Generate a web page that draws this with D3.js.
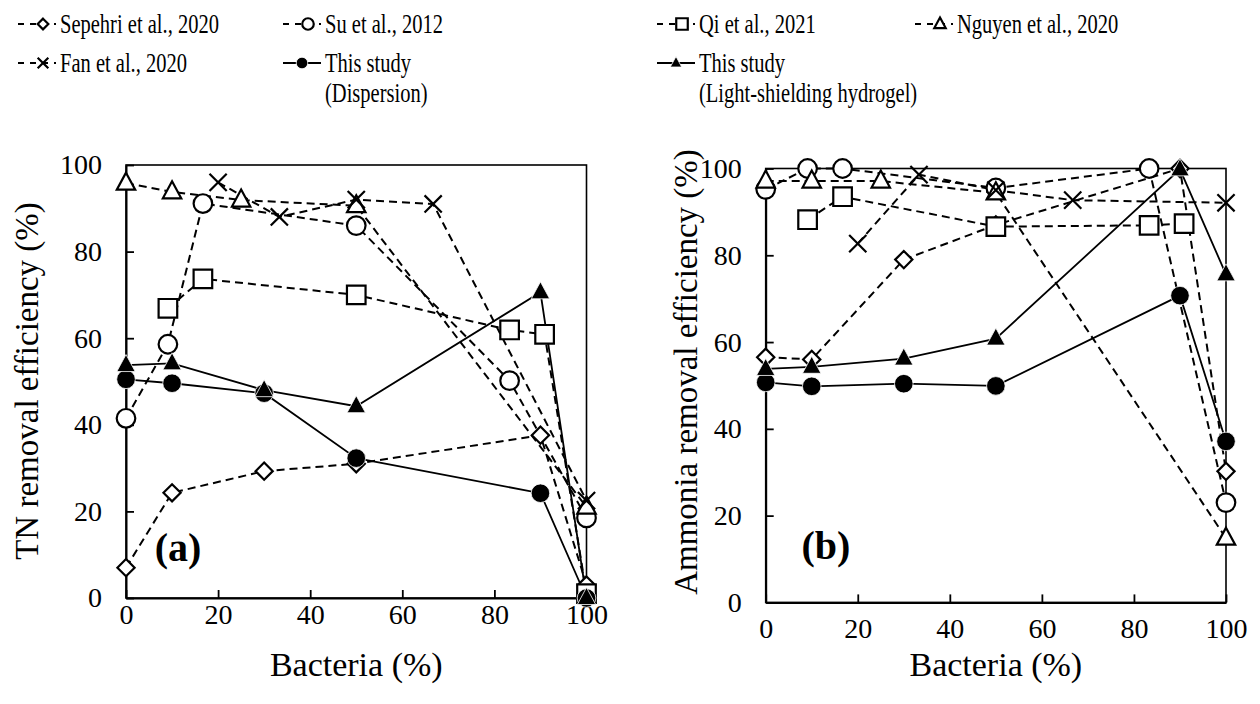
<!DOCTYPE html>
<html>
<head>
<meta charset="utf-8">
<script src="https://cdnjs.cloudflare.com/ajax/libs/d3/7.8.5/d3.min.js"></script>
<style>
  html, body { margin: 0; padding: 0; background: #fff; }
  svg { display: block; }
  text { font-family: "Liberation Serif", "Times New Roman", serif; fill: #000; }
</style>
</head>
<body>
<svg id="chart" width="1260" height="704"></svg>
<script>
// Bacteria share (%) used by each study
const sepehriX = [0, 10, 30, 50, 90, 100];
const suX      = [0, 9.1, 16.7, 50, 83.3, 100];
const qiX_TN   = [9.1, 16.7, 50, 83.3, 90.9, 100];
const qiX_NH   = [9.1, 16.7, 50, 83.3, 90.9];
const nguyenX  = [0, 10, 25, 50, 100];
const fanX     = [20, 33.3, 50, 66.7, 100];
const studyX   = [0, 10, 30, 50, 90, 100];

// (a) TN removal efficiency (%)
const sepehriTN = [7, 24.3, 29.3, 31, 37.6, 3];
const suTN      = [41.5, 58.6, 91.1, 86, 50.2, 18.5];
const qiTN      = [66.9, 73.7, 70, 61.9, 60.9, 1];
const nguyenTN  = [95.8, 93.8, 91.9, 90.6, 21];
const fanTN     = [96, 88, 92, 91, 22.5];
const dispTN    = [50.5, 49.6, 47.3, 32.3, 24.2, 0];
const gelTN     = [53.8, 54.2, 48, 44.3, 70.6, 0];

// (b) Ammonia removal efficiency (%)
const sepehriNH = [56.5, 56, 79, 87, 100, 30.2];
const suNH      = [95.2, 100, 100, 95.5, 100, 23];
const qiNH      = [88.2, 93.5, 86.6, 86.9, 87.3];
const nguyenNH  = [97.1, 97.1, 97.1, 94.4, 14.8];
const fanNH     = [82.7, 98.6, 95, 92.7, 92.1];
const dispNH    = [50.7, 49.8, 50.4, 49.9, 70.7, 37.1];
const gelNH     = [53.8, 54.3, 56.2, 60.8, 99.8, 75.6];

const tickValues = [0, 20, 40, 60, 80, 100];
const xTitle = "Bacteria (%)";
const yTitles = ["TN removal efficiency (%)", "Ammonia removal efficiency (%)"];
const panelTags = ["(a)", "(b)"];

// Series definitions: label, marker shape, dashed or solid line
const seriesInfo = [
  { key: "sepehri", label: ["Sepehri et al., 2020"], shape: "diamond", dashed: true },
  { key: "su",      label: ["Su et al., 2012"],      shape: "circle",  dashed: true },
  { key: "qi",      label: ["Qi et al., 2021"],      shape: "square",  dashed: true },
  { key: "nguyen",  label: ["Nguyen et al., 2020"],  shape: "triangle", dashed: true },
  { key: "fan",     label: ["Fan et al., 2020"],     shape: "cross",   dashed: true },
  { key: "disp",    label: ["This study", "(Dispersion)"], shape: "dot", dashed: false },
  { key: "gel",     label: ["This study", "(Light-shielding hydrogel)"], shape: "tri", dashed: false }
];

const panelData = [
  { sepehri: [sepehriX, sepehriTN], su: [suX, suTN], qi: [qiX_TN, qiTN], nguyen: [nguyenX, nguyenTN],
    fan: [fanX, fanTN], disp: [studyX, dispTN], gel: [studyX, gelTN] },
  { sepehri: [sepehriX, sepehriNH], su: [suX, suNH], qi: [qiX_NH, qiNH], nguyen: [nguyenX, nguyenNH],
    fan: [fanX, fanNH], disp: [studyX, dispNH], gel: [studyX, gelNH] }
];

const panels = [
  { left: 126,   right: 586.5, top: 165,   bottom: 598,   xPad: 6,  yPad: 24, tag: [178, 561], yTitle: [38, 381] },
  { left: 765.7, right: 1226,  top: 168.5, bottom: 602.4, xPad: 16, yPad: 24, tag: [826, 559], yTitle: [697, 372] }
];

const svg = d3.select("#chart");

// marker path generator, k scales the size
function markerPath(shape, k) {
  const p = d3.path();
  if (shape === "diamond") {
    const h = 8.6 * k;
    p.moveTo(0, -h); p.lineTo(h, 0); p.lineTo(0, h); p.lineTo(-h, 0); p.closePath();
  } else if (shape === "circle" || shape === "dot") {
    const r = 9.3 * k;
    p.moveTo(r, 0); p.arc(0, 0, r, 0, 2 * Math.PI);
  } else if (shape === "square") {
    const h = 9.3 * k;
    p.rect(-h, -h, 2 * h, 2 * h);
  } else if (shape === "triangle" || shape === "tri") {
    const w = 9.2 * k, hu = 10.5 * k, hd = 6.5 * k;
    p.moveTo(0, -hu); p.lineTo(w, hd); p.lineTo(-w, hd); p.closePath();
  } else if (shape === "cross") {
    const h = 8.6 * k;
    p.moveTo(-h, -h); p.lineTo(h, h); p.moveTo(h, -h); p.lineTo(-h, h);
  }
  return p.toString();
}

function drawMarker(g, shape, x, y, k) {
  const filled = (shape === "dot" || shape === "tri");
  g.append("path")
    .attr("transform", `translate(${x},${y})`)
    .attr("d", markerPath(shape, k))
    .attr("fill", filled ? "#000" : (shape === "cross" ? "none" : "#fff"))
    .attr("stroke", filled ? "#fff" : "#000")
    .attr("stroke-width", filled ? 0.8 : 2.2)
    .attr("stroke-linejoin", "miter");
}

panels.forEach((pn, i) => {
  const x = d3.scaleLinear().domain([0, 100]).range([pn.left, pn.right]);
  const y = d3.scaleLinear().domain([0, 100]).range([pn.bottom, pn.top]);
  const g = svg.append("g");

  // frame
  g.append("rect")
    .attr("x", pn.left).attr("y", pn.top)
    .attr("width", pn.right - pn.left).attr("height", pn.bottom - pn.top)
    .attr("fill", "none").attr("stroke", "#000").attr("stroke-width", 1.6);

  // axes with ticks pointing inward
  const xAxis = d3.axisBottom(x).tickValues(tickValues).tickSizeInner(-8).tickSizeOuter(0).tickPadding(pn.xPad);
  const yAxis = d3.axisLeft(y).tickValues(tickValues).tickSizeInner(-8).tickSizeOuter(0).tickPadding(pn.yPad);
  const gx = g.append("g").attr("transform", `translate(0,${pn.bottom})`).call(xAxis);
  const gy = g.append("g").attr("transform", `translate(${pn.left},0)`).call(yAxis);
  [gx, gy].forEach(a => {
    a.select(".domain").attr("stroke", "#000").attr("stroke-width", 2);
    a.selectAll(".tick line").attr("stroke", "#000").attr("stroke-width", 1.8);
    a.selectAll(".tick text")
      .style("font-family", '"Liberation Serif", "Times New Roman", serif')
      .style("font-size", "28px").attr("fill", "#000");
  });

  // axis titles
  g.append("text")
    .attr("x", (pn.left + pn.right) / 2).attr("y", 676)
    .attr("text-anchor", "middle").style("font-size", "34px").text(xTitle);
  g.append("text")
    .attr("transform", `translate(${pn.yTitle[0]},${pn.yTitle[1]}) rotate(-90)`)
    .attr("text-anchor", "middle").style("font-size", "33px").text(yTitles[i]);

  // panel tag
  g.append("text")
    .attr("x", pn.tag[0]).attr("y", pn.tag[1])
    .attr("text-anchor", "middle").style("font-size", "40px").style("font-weight", "bold")
    .text(panelTags[i]);

  // lines
  const line = d3.line().x(d => x(d[0])).y(d => y(d[1]));
  seriesInfo.forEach(s => {
    const [xs, vs] = panelData[i][s.key];
    const pts = xs.map((v, j) => [v, vs[j]]);
    g.append("path")
      .attr("d", line(pts))
      .attr("fill", "none").attr("stroke", "#000")
      .attr("stroke-width", s.dashed ? 2 : 1.8)
      .attr("stroke-dasharray", s.dashed ? "8,5" : null);
  });
  // markers on top of all lines
  seriesInfo.forEach(s => {
    const [xs, vs] = panelData[i][s.key];
    const mg = g.append("g");
    xs.forEach((v, j) => drawMarker(mg, s.shape, x(v), y(vs[j]), 1));
  });
});

// legend
const legendPos = [
  [18, 33], [283, 33], [657, 33], [915, 33],
  [18, 72], [283, 72], [657, 72]
];
const lg = svg.append("g");
seriesInfo.forEach((s, i) => {
  const [lx, ly] = legendPos[i];
  const cy = ly - 9;
  const item = lg.append("g");
  item.append("path")
    .attr("d", `M${lx},${cy}H${lx + 38}`)
    .attr("stroke", "#000").attr("stroke-width", 2)
    .attr("stroke-dasharray", s.dashed ? "6,6" : null);
  drawMarker(item, s.shape, lx + (s.dashed ? 25 : 19), cy, 0.62);
  s.label.forEach((t, k) => {
    item.append("text")
      .attr("transform", `translate(${lx + 42},${ly + k * 30}) scale(0.76,1)`)
      .style("font-size", "27px").text(t);
  });
});
</script>
</body>
</html>
